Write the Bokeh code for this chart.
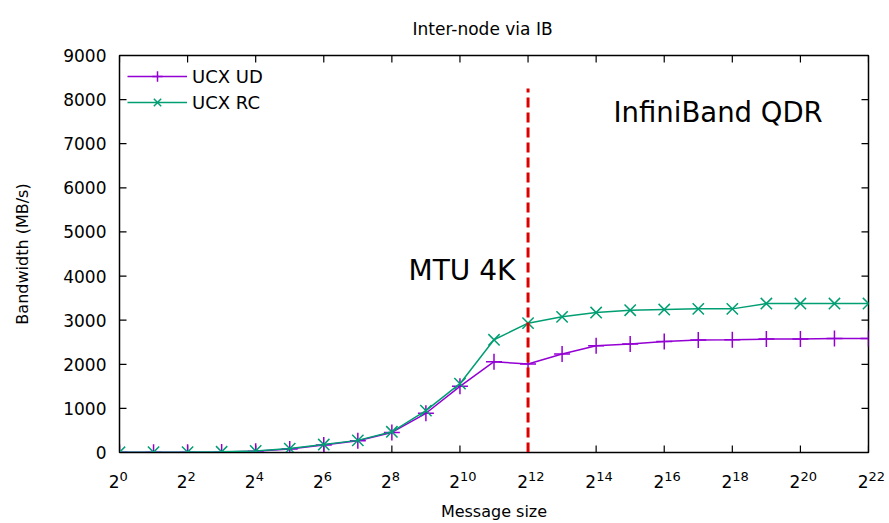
from bokeh.plotting import figure
from bokeh.models import (Range1d, LinearAxis, Label, Legend, LegendItem, FixedTicker)
from bokeh.embed import file_html
from bokeh.resources import INLINE

# message size exponents (size = 2**exp)
exps = list(range(0, 23))
ucx_ud = [5, 5, 8, 14, 30, 80, 170, 265, 455, 889, 1500, 2058, 2005, 2231, 2420,
          2458, 2518, 2548, 2555, 2571, 2571, 2586, 2586]
ucx_rc = [5, 6, 9, 16, 34, 88, 180, 275, 470, 950, 1560, 2555, 2932, 3075, 3173,
          3226, 3241, 3256, 3256, 3377, 3377, 3377, 3377]
tick_exps = list(range(0, 23, 2))
y_ticks = list(range(0, 9001, 1000))
x_lo, x_hi = 0, 22
y_lo, y_hi = 0, 9000
mtu_x = [12, 12]
mtu_y = [0, 8250]

FS = "\u2007"  # figure space (digit width) used to align base and exponent
base_labels = {e: "2" + FS for e in tick_exps}
pow_labels = {e: FS * len(str(e)) + str(e) for e in tick_exps}

W, H = 889, 523
ML, MR, MT, MB = 119, 21, 54, 71
FONT = "DejaVu Sans"
p = figure(width=W, height=H, output_backend="svg", toolbar_location=None,
           x_range=Range1d(x_lo, x_hi), y_range=Range1d(y_lo, y_hi),
           min_border_left=ML, min_border_right=MR, min_border_top=MT, min_border_bottom=MB)
p.title.text = "Inter-node via IB"
p.title.align = "left"
p.title.offset = 293
p.title.text_font = FONT
p.title.text_font_style = "normal"
p.title.text_font_size = "17px"
p.title.text_color = "black"
p.title.standoff = 33
p.grid.visible = False
p.outline_line_color = "black"
p.outline_line_width = 1.5

bx = p.below[0]
ly = p.left[0]
for ax in (bx, ly):
    ax.major_tick_in = 0
    ax.major_tick_out = 0
    ax.minor_tick_in = 0
    ax.minor_tick_out = 0
    ax.major_label_text_font = FONT
    ax.major_label_text_font_size = "17px"
    ax.major_label_text_color = "black"
    ax.axis_label_text_font = FONT
    ax.axis_label_text_font_style = "normal"
    ax.axis_label_text_font_size = "16px"
    ax.axis_label_text_color = "black"
    ax.axis_line_color = "black"

bx.ticker = FixedTicker(ticks=tick_exps)
bx.major_label_overrides = base_labels
bx.major_label_standoff = 19
ly.ticker = FixedTicker(ticks=y_ticks)
ly.major_label_standoff = 13
ly.axis_label = "Bandwidth (MB/s)"
ly.axis_label_standoff = 28

# second bottom axis carrying the superscript exponents, pulled up next to the bases
pow_axis = LinearAxis(ticker=FixedTicker(ticks=tick_exps), major_label_overrides=pow_labels,
                      major_tick_in=0, major_tick_out=0, minor_tick_in=0, minor_tick_out=0,
                      axis_line_color=None, major_label_standoff=-26,
                      major_label_text_font=FONT, major_label_text_font_size="13px",
                      major_label_text_color="black",
                      axis_label="Message size", axis_label_standoff=15,
                      axis_label_text_font=FONT, axis_label_text_font_style="normal",
                      axis_label_text_font_size="16px", axis_label_text_color="black")
p.add_layout(pow_axis, "below")

# inward tick marks on all four sides (7 px long)
TL = 7
dy = TL * (y_hi - y_lo) / (H - MT - MB)
dx = TL * (x_hi - x_lo) / (W - ML - MR)
nx, ny = len(tick_exps), len(y_ticks)
p.segment(x0=tick_exps, y0=[y_lo] * nx, x1=tick_exps, y1=[y_lo + dy] * nx,
          line_color="black", line_width=1.2)
p.segment(x0=tick_exps, y0=[y_hi] * nx, x1=tick_exps, y1=[y_hi - dy] * nx,
          line_color="black", line_width=1.2)
p.segment(x0=[x_lo] * ny, y0=y_ticks, x1=[x_lo + dx] * ny, y1=y_ticks,
          line_color="black", line_width=1.2)
p.segment(x0=[x_hi] * ny, y0=y_ticks, x1=[x_hi - dx] * ny, y1=y_ticks,
          line_color="black", line_width=1.2)

ud_line = p.line(exps, ucx_ud, line_color="#9400d3", line_width=1.5)
ud_mark = p.scatter(exps, ucx_ud, marker="cross", size=16, line_color="#9400d3", line_width=1.5)
rc_line = p.line(exps, ucx_rc, line_color="#009e73", line_width=1.5)
rc_mark = p.scatter(exps, ucx_rc, marker="x", size=16, line_color="#009e73", line_width=1.5)

p.line(mtu_x, mtu_y, line_color="#dd0000", line_width=3, line_dash="10 5")

p.add_layout(Label(x=14.51, y=7711, text="InfiniBand QDR", text_font=FONT,
                   text_font_size="27.5px", text_baseline="middle", text_color="black"))
p.add_layout(Label(x=8.49, y=4116, text="MTU 4K", text_font=FONT,
                   text_font_size="28px", text_baseline="middle", text_color="black"))

legend = Legend(items=[LegendItem(label="UCX UD", renderers=[ud_line, ud_mark]),
                       LegendItem(label="UCX RC", renderers=[rc_line, rc_mark])],
                location="top_left", border_line_color=None, background_fill_alpha=0,
                label_text_font=FONT, label_text_font_size="18px", label_text_color="black",
                glyph_width=60, glyph_height=26, label_height=26,
                spacing=0, padding=4, margin=8)
p.add_layout(legend)

open("out.html", "w").write(file_html(p, INLINE))
